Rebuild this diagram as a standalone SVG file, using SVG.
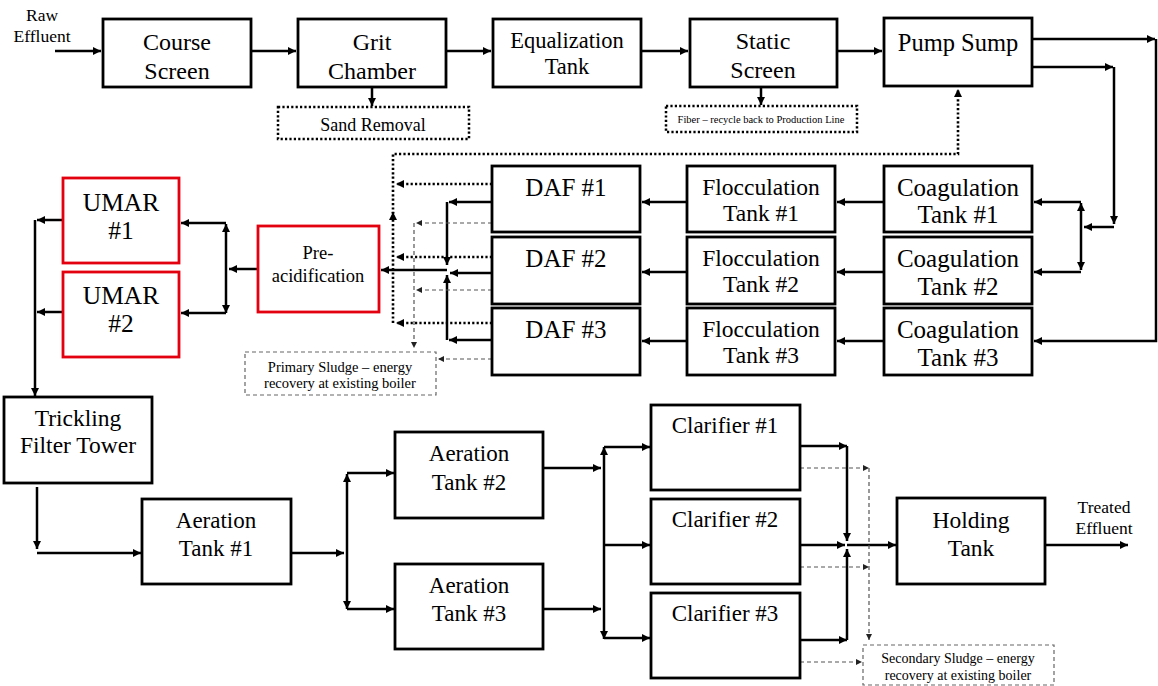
<svg xmlns="http://www.w3.org/2000/svg" width="1158" height="686" viewBox="0 0 1158 686">
<style>
.box{fill:#fff;stroke:#000;stroke-width:2.8}
.red{fill:#fff;stroke:#e3000f;stroke-width:2.8}
.dotbox{fill:none;stroke:#000;stroke-width:2.5;stroke-dasharray:2.2 2.2}
.dashbox{fill:none;stroke:#666;stroke-width:1.2;stroke-dasharray:4 3}
.ln{fill:none;stroke:#000;stroke-width:2.5}
.dot{fill:none;stroke:#000;stroke-width:2.6;stroke-dasharray:2.2 2.2}
.dash{fill:none;stroke:#555;stroke-width:1.2;stroke-dasharray:4 3}
text{font-family:"Liberation Serif","Times New Roman",serif;fill:#000;text-anchor:middle;dominant-baseline:central}
</style>
<defs>
<marker id="a" viewBox="0 0 10 10" refX="10" refY="5" markerWidth="9" markerHeight="8" markerUnits="userSpaceOnUse" orient="auto-start-reverse"><path d="M0,0 L10,5 L0,10 z" fill="#000"/></marker>
<marker id="g" viewBox="0 0 10 10" refX="10" refY="5" markerWidth="7" markerHeight="6" markerUnits="userSpaceOnUse" orient="auto-start-reverse"><path d="M0,0 L10,5 L0,10 z" fill="#222"/></marker>
</defs>
<rect width="1158" height="686" fill="#fff"/>

<g id="connectors">
<path class="ln" d="M55,51 H101" marker-end="url(#a)"/>
<path class="ln" d="M251,51 H296" marker-end="url(#a)"/>
<path class="ln" d="M446,51 H491" marker-end="url(#a)"/>
<path class="ln" d="M641,51 H688" marker-end="url(#a)"/>
<path class="ln" d="M837,51 H882" marker-end="url(#a)"/>
<path class="ln" d="M372,87 V106" marker-end="url(#a)"/>
<path class="ln" d="M761,87 V105" marker-end="url(#a)"/>
<path class="ln" d="M1032,39 H1155" marker-end="url(#a)"/>
<path class="ln" d="M1156,39 V341 H1034" marker-end="url(#a)"/>
<path class="ln" d="M1032,67 H1113" marker-end="url(#a)"/>
<path class="ln" d="M1114,67 V224" marker-end="url(#a)"/>
<path class="ln" d="M1114,227 H1084" marker-end="url(#a)"/>
<path class="ln" d="M1081,203 V270" marker-start="url(#a)" marker-end="url(#a)"/>
<path class="ln" d="M1081,202 H1034" marker-end="url(#a)"/>
<path class="ln" d="M1081,272 H1034" marker-end="url(#a)"/>
<path class="ln" d="M884,202 H837" marker-end="url(#a)"/>
<path class="ln" d="M884,272 H837" marker-end="url(#a)"/>
<path class="ln" d="M884,341 H837" marker-end="url(#a)"/>
<path class="ln" d="M687,202 H642" marker-end="url(#a)"/>
<path class="ln" d="M687,272 H642" marker-end="url(#a)"/>
<path class="ln" d="M687,341 H642" marker-end="url(#a)"/>
<path class="ln" d="M492,202 H449" marker-end="url(#a)"/>
<path class="ln" d="M447,202 V265" marker-end="url(#a)"/>
<path class="ln" d="M492,340 H449" marker-end="url(#a)"/>
<path class="ln" d="M447,340 V275" marker-end="url(#a)"/>
<path class="ln" d="M492,273 H450" marker-end="url(#a)"/>
<path class="ln" d="M447,270 H381" marker-end="url(#a)"/>
<path class="dot" d="M492,184 H396" marker-end="url(#a)"/>
<path class="dot" d="M492,257 H396" marker-end="url(#a)"/>
<path class="dot" d="M492,323 H396" marker-end="url(#a)"/>
<path class="dot" d="M393,323 V212" marker-end="url(#a)"/>
<path class="dot" d="M393,214 V154 H958 V89" marker-end="url(#a)"/>
<path class="dash" d="M492,223 H416" marker-end="url(#g)"/>
<path class="dash" d="M492,290 H416" marker-end="url(#g)"/>
<path class="dash" d="M414,223 V348" marker-end="url(#g)"/>
<path class="dash" d="M492,359 H438" marker-end="url(#g)"/>
<path class="ln" d="M258,269 H229" marker-end="url(#a)"/>
<path class="ln" d="M226,224 V313" marker-start="url(#a)" marker-end="url(#a)"/>
<path class="ln" d="M226,223 H181" marker-end="url(#a)"/>
<path class="ln" d="M226,313 H181" marker-end="url(#a)"/>
<path class="ln" d="M63,220 H37" marker-end="url(#a)"/>
<path class="ln" d="M63,312 H37" marker-end="url(#a)"/>
<path class="ln" d="M35,220 V396" marker-end="url(#a)"/>
<path class="ln" d="M37,487 V549" marker-end="url(#a)"/>
<path class="ln" d="M37,553 H141" marker-end="url(#a)"/>
<path class="ln" d="M291,553 H344" marker-end="url(#a)"/>
<path class="ln" d="M347,474 V609" marker-start="url(#a)" marker-end="url(#a)"/>
<path class="ln" d="M347,473 H394" marker-end="url(#a)"/>
<path class="ln" d="M347,609 H394" marker-end="url(#a)"/>
<path class="ln" d="M543,468 H601" marker-end="url(#a)"/>
<path class="ln" d="M543,609 H601" marker-end="url(#a)"/>
<path class="ln" d="M604,447 V639" marker-start="url(#a)" marker-end="url(#a)"/>
<path class="ln" d="M604,447 H650" marker-end="url(#a)"/>
<path class="ln" d="M604,545 H650" marker-end="url(#a)"/>
<path class="ln" d="M604,638 H650" marker-end="url(#a)"/>
<path class="ln" d="M800,446 H847" marker-end="url(#a)"/>
<path class="ln" d="M847,446 V541" marker-end="url(#a)"/>
<path class="ln" d="M800,640 H847" marker-end="url(#a)"/>
<path class="ln" d="M847,640 V549" marker-end="url(#a)"/>
<path class="ln" d="M800,545 H845" marker-end="url(#a)"/>
<path class="ln" d="M847,545 H896" marker-end="url(#a)"/>
<path class="ln" d="M1045,545 H1128" marker-end="url(#a)"/>
<path class="dash" d="M800,468 H869" marker-end="url(#g)"/>
<path class="dash" d="M800,567 H869" marker-end="url(#g)"/>
<path class="dash" d="M869,468 V640" marker-end="url(#g)"/>
<path class="dash" d="M800,662 H862" marker-end="url(#g)"/>
</g>

<g id="raw-effluent"><text x="42" y="15" font-size="17.5">Raw</text><text x="42" y="36" font-size="17.5">Effluent</text></g>
<g id="course-screen"><rect class="box" x="103" y="19" width="148" height="68"/><text x="177" y="42" font-size="24">Course</text><text x="177" y="71" font-size="24">Screen</text></g>
<g id="grit-chamber"><rect class="box" x="298" y="19" width="148" height="68"/><text x="372" y="42" font-size="24">Grit</text><text x="372" y="71" font-size="24">Chamber</text></g>
<g id="equalization-tank"><rect class="box" x="493" y="19" width="148" height="68"/><text x="567" y="40" font-size="22.5">Equalization</text><text x="567" y="66" font-size="22.5">Tank</text></g>
<g id="static-screen"><rect class="box" x="690" y="19" width="147" height="68"/><text x="763" y="41" font-size="24">Static</text><text x="763" y="70" font-size="24">Screen</text></g>
<g id="pump-sump"><rect class="box" x="884" y="18" width="148" height="68"/><text x="958" y="42" font-size="24.5">Pump Sump</text></g>
<g id="sand-removal"><rect class="dotbox" x="278" y="107" width="191" height="32"/><text x="373" y="125" font-size="18">Sand Removal</text></g>
<g id="fiber"><rect class="dotbox" x="666" y="106" width="191" height="26"/><text x="761" y="119" font-size="10.5">Fiber – recycle back to Production Line</text></g>

<g id="coag-1"><rect class="box" x="884" y="166" width="148" height="66"/><text x="958" y="187" font-size="25">Coagulation</text><text x="958" y="214" font-size="25">Tank #1</text></g>
<g id="coag-2"><rect class="box" x="884" y="237" width="148" height="67"/><text x="958" y="258" font-size="25">Coagulation</text><text x="958" y="286" font-size="25">Tank #2</text></g>
<g id="coag-3"><rect class="box" x="884" y="308" width="148" height="67"/><text x="958" y="329" font-size="25">Coagulation</text><text x="958" y="357" font-size="25">Tank #3</text></g>
<g id="floc-1"><rect class="box" x="687" y="166" width="148" height="66"/><text x="761" y="187" font-size="23.5">Flocculation</text><text x="761" y="213" font-size="23.5">Tank #1</text></g>
<g id="floc-2"><rect class="box" x="687" y="237" width="148" height="67"/><text x="761" y="258" font-size="23.5">Flocculation</text><text x="761" y="284" font-size="23.5">Tank #2</text></g>
<g id="floc-3"><rect class="box" x="687" y="308" width="148" height="67"/><text x="761" y="329" font-size="23.5">Flocculation</text><text x="761" y="355" font-size="23.5">Tank #3</text></g>
<g id="daf-1"><rect class="box" x="492" y="166" width="148" height="66"/><text x="566" y="187" font-size="25">DAF #1</text></g>
<g id="daf-2"><rect class="box" x="492" y="237" width="148" height="67"/><text x="566" y="258" font-size="25">DAF #2</text></g>
<g id="daf-3"><rect class="box" x="492" y="308" width="148" height="67"/><text x="566" y="329" font-size="25">DAF #3</text></g>

<g id="pre-acidification"><rect class="red" x="258" y="226" width="121" height="86"/><text x="318" y="253" font-size="18.5">Pre-</text><text x="318" y="276" font-size="18.5">acidification</text></g>
<g id="umar-1"><rect class="red" x="63" y="178" width="116" height="85"/><text x="121" y="202" font-size="25.5">UMAR</text><text x="121" y="230" font-size="25.5">#1</text></g>
<g id="umar-2"><rect class="red" x="63" y="272" width="116" height="85"/><text x="121" y="295" font-size="25.5">UMAR</text><text x="121" y="323" font-size="25.5">#2</text></g>
<g id="primary-sludge"><rect class="dashbox" x="245" y="352" width="191" height="43"/><text x="340" y="367" font-size="14.5">Primary Sludge – energy</text><text x="340" y="383" font-size="14.5">recovery at existing boiler</text></g>

<g id="trickling-filter"><rect class="box" x="4" y="397" width="148" height="86"/><text x="78" y="418" font-size="23.5">Trickling</text><text x="78" y="445" font-size="23.5">Filter Tower</text></g>
<g id="aeration-1"><rect class="box" x="142" y="499" width="149" height="85"/><text x="216" y="520" font-size="23">Aeration</text><text x="216" y="548" font-size="23">Tank #1</text></g>
<g id="aeration-2"><rect class="box" x="395" y="432" width="148" height="86"/><text x="469" y="453" font-size="23">Aeration</text><text x="469" y="482" font-size="23">Tank #2</text></g>
<g id="aeration-3"><rect class="box" x="395" y="564" width="148" height="85"/><text x="469" y="585" font-size="23">Aeration</text><text x="469" y="613" font-size="23">Tank #3</text></g>
<g id="clarifier-1"><rect class="box" x="651" y="405" width="149" height="85"/><text x="725" y="425" font-size="23">Clarifier #1</text></g>
<g id="clarifier-2"><rect class="box" x="651" y="499" width="149" height="85"/><text x="725" y="519" font-size="23">Clarifier #2</text></g>
<g id="clarifier-3"><rect class="box" x="651" y="593" width="149" height="85"/><text x="725" y="613" font-size="23">Clarifier #3</text></g>
<g id="holding-tank"><rect class="box" x="897" y="498" width="148" height="86"/><text x="971" y="520" font-size="23.5">Holding</text><text x="971" y="548" font-size="23.5">Tank</text></g>
<g id="treated-effluent"><text x="1104" y="507" font-size="17.5">Treated</text><text x="1104" y="528" font-size="17.5">Effluent</text></g>
<g id="secondary-sludge"><rect class="dashbox" x="863" y="645" width="191" height="40"/><text x="958" y="658" font-size="14">Secondary Sludge – energy</text><text x="958" y="675" font-size="14">recovery at existing boiler</text></g>
</svg>
